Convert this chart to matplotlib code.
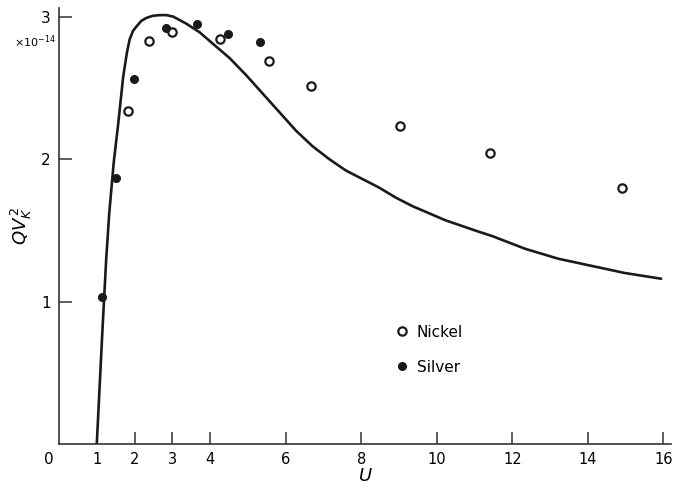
import matplotlib.pyplot as plt
import matplotlib.transforms as mtransforms

# theory curve, read point by point (U, Q*Vk^2 in units of 1e-14)
curve_u = [1.0, 1.15, 1.25, 1.33, 1.45, 1.56, 1.70, 1.80, 1.87, 1.96, 2.05,
           2.18, 2.31, 2.48, 2.66, 2.84, 3.02, 3.37, 3.72, 4.07, 4.51, 4.95,
           5.39, 5.83, 6.27, 6.71, 7.15, 7.59, 8.03, 8.47, 8.91, 9.35, 9.79,
           10.23, 10.67, 11.11, 11.46, 12.34, 13.22, 14.10, 14.98, 15.94]
curve_q = [0.0, 0.80, 1.30, 1.62, 1.98, 2.23, 2.58, 2.75, 2.84, 2.90, 2.93,
           2.97, 2.99, 3.005, 3.01, 3.01, 3.00, 2.95, 2.89, 2.81, 2.71, 2.59,
           2.46, 2.33, 2.20, 2.09, 2.00, 1.92, 1.86, 1.80, 1.73, 1.67, 1.62,
           1.57, 1.53, 1.49, 1.46, 1.37, 1.30, 1.25, 1.20, 1.16]

# measured points
nickel_u = [1.83, 2.37, 2.99, 4.25, 5.57, 6.66, 9.02, 11.42, 14.91]
nickel_q = [2.34, 2.83, 2.89, 2.84, 2.69, 2.51, 2.23, 2.04, 1.80]
silver_u = [1.14, 1.50, 1.98, 2.82, 3.66, 4.47, 5.32]
silver_q = [1.03, 1.87, 2.56, 2.92, 2.95, 2.88, 2.82]

x_ticks = [1, 2, 3, 4, 6, 8, 10, 12, 14, 16]
y_ticks = [1, 2, 3]

W, H = 673, 493
fig = plt.figure(figsize=(W / 100, H / 100), dpi=100)
ax = fig.add_axes([59 / W, 49 / H, 612 / W, 436 / H])

ink = '#1a1a1a'
ax.plot(curve_u, curve_q, color=ink, lw=1.9, solid_joinstyle='round',
        solid_capstyle='round')
ax.plot(nickel_u, nickel_q, 'o', ms=6, mfc='white', mec=ink, mew=1.6,
        ls='none', label='Nickel')
ax.plot(silver_u, silver_q, 'o', ms=5.5, mfc=ink, mec=ink,
        ls='none', label='Silver')

ax.set_xlim(0, 16.2)
ax.set_ylim(0, 3.06)
for s in ['top', 'right']:
    ax.spines[s].set_visible(False)
for s in ['left', 'bottom']:
    ax.spines[s].set_linewidth(1.2)
    ax.spines[s].set_color('#333333')

ax.set_xticks(x_ticks)
ax.set_yticks(y_ticks)
ax.tick_params(direction='in', length=9, width=1.1, color='#333333',
               labelsize=11, pad=6)
ax.tick_params(axis='x', labelsize=10.5)

# lone zero at the origin
ax.text(0, 0, '0', fontsize=11, ha='right', va='top',
        transform=ax.transData + mtransforms.ScaledTranslation(-4 / 72, -6 / 72, fig.dpi_scale_trans))
ax.text(-0.1, 2.82, r'$\times10^{-14}$', fontsize=8, ha='right', va='center')

ax.set_xlabel(r'$U$', fontsize=13, labelpad=0)
ax.set_ylabel(r'$QV_K^{\,2}$', fontsize=13, labelpad=5)

ax.legend(loc='upper left', bbox_to_anchor=(0.525, 0.305), frameon=False,
          fontsize=11, numpoints=1, handletextpad=0.5, labelspacing=1.3,
          handlelength=1.0)

fig.savefig('out.png', dpi=100)
